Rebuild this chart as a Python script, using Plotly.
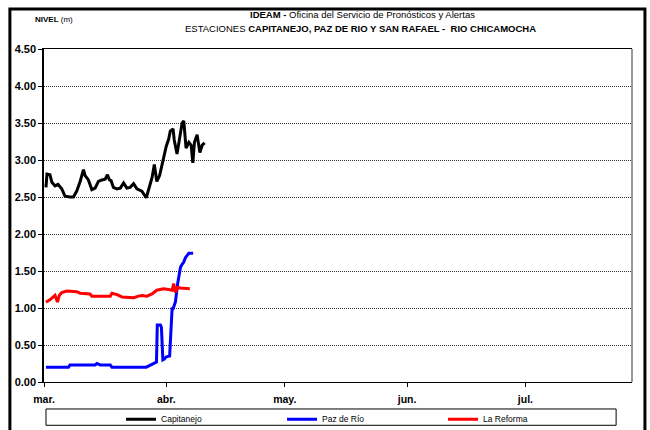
import plotly.graph_objects as go

# Capitanejo
cap_t = ["2011-03-01 12:00", "2011-03-01 18:00", "2011-03-02 12:00", "2011-03-03 00:00", "2011-03-03 19:00",
         "2011-03-04 13:00", "2011-03-05 12:00", "2011-03-06 08:00", "2011-03-07 14:00", "2011-03-08 11:00",
         "2011-03-09 07:00", "2011-03-10 04:00", "2011-03-11 00:00", "2011-03-11 10:00", "2011-03-12 06:00",
         "2011-03-13 03:00", "2011-03-13 23:00", "2011-03-14 19:00", "2011-03-15 16:00", "2011-03-16 12:00",
         "2011-03-17 02:00", "2011-03-17 14:00", "2011-03-18 00:00", "2011-03-18 14:00", "2011-03-19 12:00",
         "2011-03-20 08:00", "2011-03-21 04:00", "2011-03-22 00:00", "2011-03-22 20:00", "2011-03-23 17:00",
         "2011-03-24 13:00", "2011-03-25 19:00", "2011-03-26 22:00", "2011-03-27 12:00", "2011-03-28 09:00",
         "2011-03-28 23:00", "2011-03-29 14:00", "2011-03-30 07:00", "2011-03-30 22:00", "2011-03-31 12:00",
         "2011-04-01 00:00", "2011-04-01 14:00", "2011-04-02 00:00", "2011-04-02 17:00", "2011-04-03 00:00",
         "2011-04-03 17:00", "2011-04-04 09:00", "2011-04-05 00:00", "2011-04-05 10:00", "2011-04-06 00:00",
         "2011-04-06 17:00", "2011-04-07 07:00", "2011-04-07 17:00", "2011-04-08 03:00", "2011-04-08 19:00",
         "2011-04-09 12:00", "2011-04-10 02:00", "2011-04-10 17:00"]
cap_v = [2.63, 2.81, 2.80, 2.70, 2.65, 2.67, 2.61, 2.51, 2.50, 2.50,
         2.58, 2.71, 2.87, 2.79, 2.73, 2.60, 2.62, 2.71, 2.73, 2.74,
         2.80, 2.73, 2.72, 2.63, 2.61, 2.62, 2.69, 2.62, 2.63, 2.68,
         2.61, 2.58, 2.49, 2.61, 2.76, 2.94, 2.71, 2.79, 2.94, 3.05,
         3.19, 3.28, 3.39, 3.42, 3.27, 3.08, 3.27, 3.50, 3.53, 3.16,
         3.24, 3.20, 2.96, 3.24, 3.34, 3.10, 3.20, 3.23]

# Paz de Rio
paz_t = ["2011-03-01 12:00", "2011-03-07 05:00", "2011-03-07 14:00", "2011-03-13 23:00", "2011-03-14 10:00",
         "2011-03-15 05:00", "2011-03-17 19:00", "2011-03-18 05:00", "2011-03-26 22:00", "2011-03-27 22:00",
         "2011-03-29 12:00", "2011-03-29 17:00", "2011-03-30 12:00", "2011-03-30 18:00", "2011-03-31 03:00",
         "2011-03-31 12:00", "2011-04-01 00:00", "2011-04-01 20:00", "2011-04-02 11:00", "2011-04-02 17:00",
         "2011-04-03 07:00", "2011-04-03 21:00", "2011-04-04 14:00", "2011-04-05 00:00", "2011-04-05 10:00",
         "2011-04-05 20:00", "2011-04-06 07:00", "2011-04-06 17:00", "2011-04-07 19:00"]
paz_v = [0.20, 0.20, 0.23, 0.23, 0.25, 0.23, 0.23, 0.20, 0.20, 0.23,
         0.27, 0.77, 0.77, 0.74, 0.30, 0.31, 0.34, 0.35, 0.99, 0.99,
         1.08, 1.33, 1.55, 1.59, 1.62, 1.68, 1.71, 1.74, 1.74]

# La Reforma
ref_t = ["2011-03-01 12:00", "2011-03-02 12:00", "2011-03-03 19:00", "2011-03-04 10:00", "2011-03-04 21:00",
         "2011-03-05 12:00", "2011-03-06 19:00", "2011-03-09 07:00", "2011-03-10 04:00", "2011-03-12 16:00",
         "2011-03-13 03:00", "2011-03-17 19:00", "2011-03-18 05:00", "2011-03-19 12:00", "2011-03-20 18:00",
         "2011-03-23 17:00", "2011-03-24 23:00", "2011-03-25 19:00", "2011-03-27 02:00", "2011-03-28 09:00",
         "2011-03-29 14:00", "2011-03-31 07:00", "2011-04-01 14:00", "2011-04-02 11:00", "2011-04-02 21:00",
         "2011-04-03 07:00", "2011-04-03 21:00", "2011-04-04 14:00", "2011-04-06 23:00"]
ref_v = [1.08, 1.11, 1.17, 1.08, 1.17, 1.21, 1.23, 1.22, 1.20, 1.19,
         1.16, 1.16, 1.20, 1.18, 1.15, 1.14, 1.16, 1.17, 1.16, 1.19,
         1.24, 1.26, 1.25, 1.24, 1.33, 1.21, 1.28, 1.27, 1.26]

month_ticks = ["2011-03-01", "2011-04-01", "2011-05-01", "2011-06-01", "2011-07-01"]
month_labels = ["mar.", "abr.", "may.", "jun.", "jul."]
y_ticks = [0, 0.5, 1, 1.5, 2, 2.5, 3, 3.5, 4, 4.5]

FONT = "Liberation Sans, Arial"

fig = go.Figure()
fig.add_trace(go.Scatter(x=cap_t, y=cap_v, mode="lines", name="Capitanejo",
                         line=dict(color="black", width=3)))
fig.add_trace(go.Scatter(x=paz_t, y=paz_v, mode="lines", name="Paz de Río",
                         line=dict(color="#0000ff", width=3)))
fig.add_trace(go.Scatter(x=ref_t, y=ref_v, mode="lines", name="La Reforma",
                         line=dict(color="#ff0000", width=3)))

fig.update_layout(
    width=650, height=430,
    margin=dict(l=44, r=18, t=49, b=48, autoexpand=False),
    paper_bgcolor="white", plot_bgcolor="white",
    font=dict(family=FONT, size=10, color="black"),
    showlegend=True,
    legend=dict(orientation="h", x=0.131, xanchor="left", y=-0.068, yanchor="top",
                font=dict(size=8.5), itemwidth=30, entrywidth=116,
                bgcolor="rgba(0,0,0,0)", tracegroupgap=0),
)

fig.update_xaxes(
    type="date", range=["2011-03-01", "2011-07-28"],
    tickvals=month_ticks, ticktext=month_labels,
    tickfont=dict(family=FONT, size=10.5, weight="bold"),
    ticks="outside", ticklen=4, tickcolor="black", ticklabelstandoff=3,
    showgrid=False, showline=True, linecolor="black", linewidth=1, mirror=True,
    zeroline=False,
)
fig.update_yaxes(
    range=[0, 4.5], tickvals=y_ticks, tickformat=".2f",
    tickfont=dict(family=FONT, size=11, weight="bold"),
    ticks="outside", ticklen=4, tickcolor="black",
    showgrid=True, gridcolor="#333333", gridwidth=1, griddash="1px,1px",
    showline=True, linecolor="black", linewidth=1.5,
    zeroline=False,
)

# right border of plot area, legend box and outer frame
fig.add_shape(type="line", xref="paper", yref="paper", x0=1, x1=1, y0=0, y1=1,
              line=dict(color="#777777", width=1.5))
fig.add_shape(type="rect", xref="paper", yref="paper", x0=0.0034, x1=0.973, y0=-0.13, y1=-0.081,
              line=dict(color="black", width=1))
fig.add_shape(type="rect", xref="paper", yref="paper", x0=-0.058, x1=1.022, y0=-0.16, y1=1.12,
              line=dict(color="black", width=3))

fig.add_annotation(xref="paper", yref="paper", x=-0.019, y=1.09, xanchor="left", yanchor="middle",
                   text="<b>NIVEL</b> (m)", showarrow=False, font=dict(family=FONT, size=8))
fig.add_annotation(xref="paper", yref="paper", x=0.541, y=1.105, xanchor="center", yanchor="middle",
                   text="<b>IDEAM -</b> Oficina del Servicio de Pronósticos y Alertas",
                   showarrow=False, font=dict(family=FONT, size=9.5))
fig.add_annotation(xref="paper", yref="paper", x=0.538, y=1.063, xanchor="center", yanchor="middle",
                   text="ESTACIONES <b>CAPITANEJO, PAZ DE RIO Y SAN RAFAEL -  RIO CHICAMOCHA</b>",
                   showarrow=False, font=dict(family=FONT, size=9.5))

# page body has a default 8px margin; drop it so the figure sits at the window corner
fig.write_html("out.html", config={"displayModeBar": False},
               post_script="document.body.style.margin='0';")
